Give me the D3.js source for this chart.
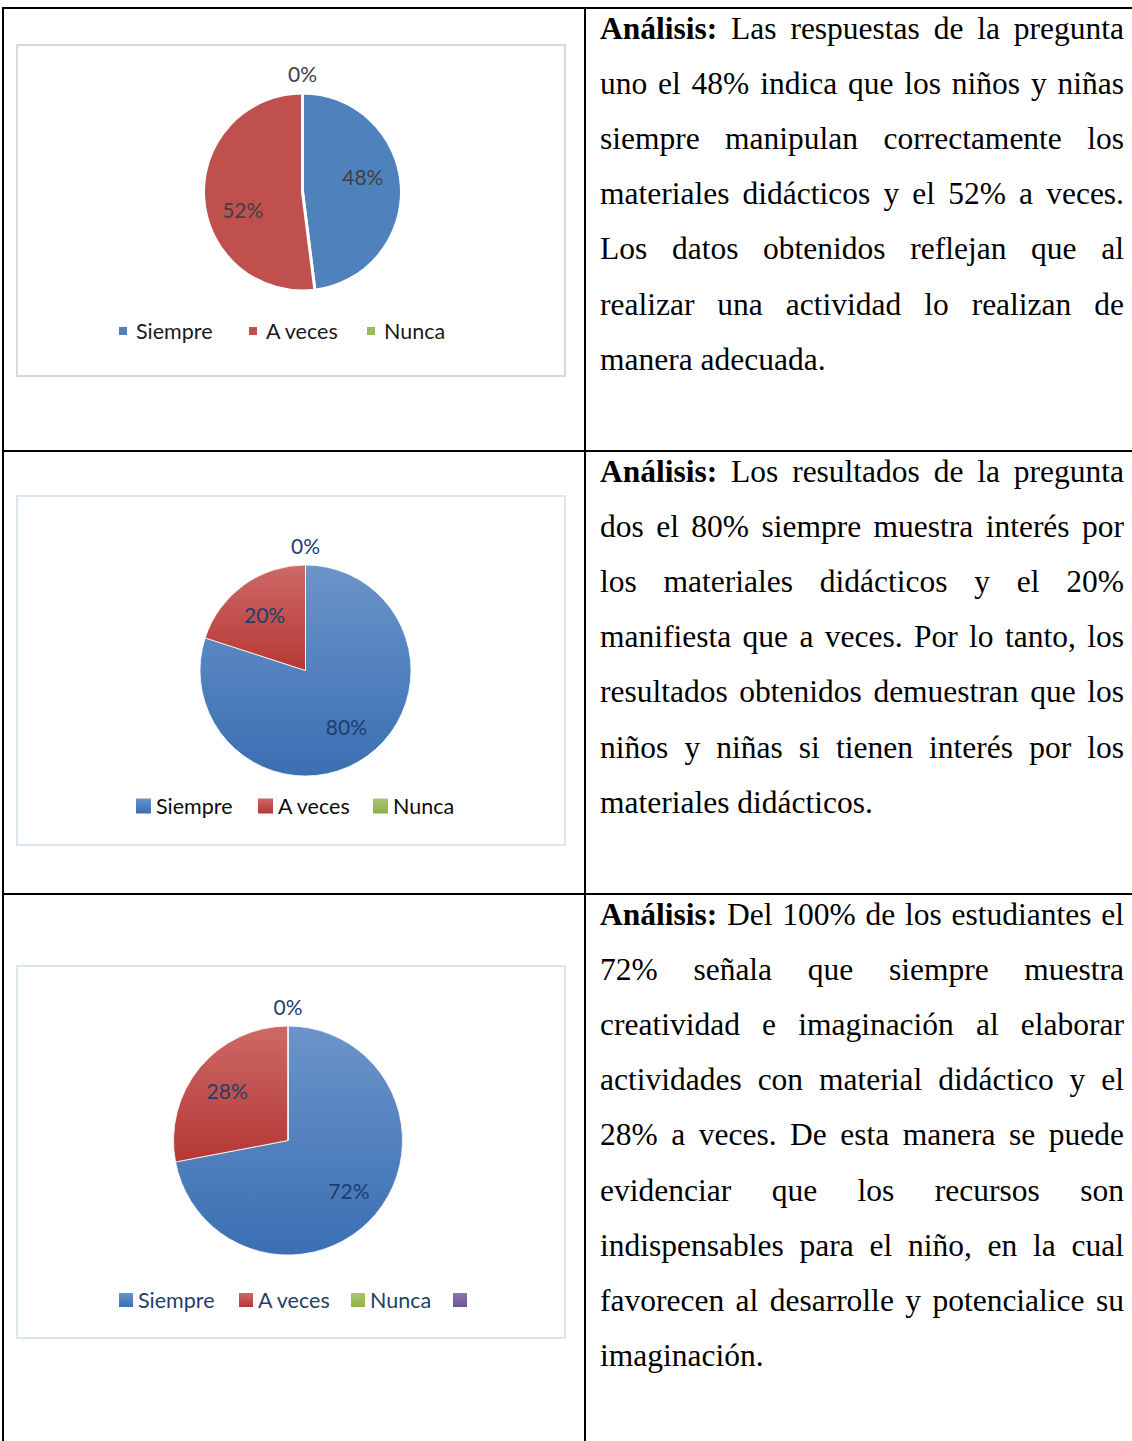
<!DOCTYPE html>
<html><head><meta charset="utf-8">
<script src="https://cdn.jsdelivr.net/npm/d3@7"></script>
<style>
html,body{margin:0;padding:0;background:#fff;}
svg{display:block;}
</style></head>
<body>
<svg id="c" width="1132" height="1441"></svg>
<script>
// ---- data ----
const categories = ["Siempre", "A veces", "Nunca"];
const chart1Values = [48, 52, 0];
const chart2Values = [80, 20, 0];
const chart3Values = [72, 28, 0];
const chart3ExtraLegend = [""];
const analysis1 = [
  "Las respuestas de la pregunta",
  "uno el 48% indica que los niños y niñas",
  "siempre manipulan correctamente los",
  "materiales didácticos y el 52% a veces.",
  "Los datos obtenidos reflejan que al",
  "realizar una actividad lo realizan de",
  "manera adecuada."
];
const analysis2 = [
  "Los resultados de la pregunta",
  "dos el 80% siempre muestra interés por",
  "los materiales didácticos y el 20%",
  "manifiesta que a veces. Por lo tanto, los",
  "resultados obtenidos demuestran que los",
  "niños y niñas si tienen interés por los",
  "materiales didácticos."
];
const analysis3 = [
  "Del 100% de los estudiantes el",
  "72% señala que siempre muestra",
  "creatividad e imaginación al elaborar",
  "actividades con material didáctico y el",
  "28% a veces. De esta manera se puede",
  "evidenciar que los recursos son",
  "indispensables para el niño, en la cual",
  "favorecen al desarrolle y potencialice su",
  "imaginación."
];
const boldLead = "Análisis:";

const svg = d3.select("#c");
const defs = svg.append("defs");

// ---- table grid ----
const grid = svg.append("g").attr("stroke", "#000").attr("stroke-width", 2);
grid.append("line").attr("x1", 2).attr("x2", 1132).attr("y1", 8).attr("y2", 8);
grid.append("line").attr("x1", 3).attr("x2", 3).attr("y1", 7).attr("y2", 1441);
grid.append("line").attr("x1", 585).attr("x2", 585).attr("y1", 7).attr("y2", 1441);
grid.append("line").attr("x1", 2).attr("x2", 1132).attr("y1", 451).attr("y2", 451);
grid.append("line").attr("x1", 2).attr("x2", 1132).attr("y1", 894).attr("y2", 894);

// ---- gradients ----
function grad(id, c1, c2, y1, y2) {
  const g = defs.append("linearGradient").attr("id", id)
    .attr("gradientUnits", "userSpaceOnUse")
    .attr("x1", 0).attr("x2", 0).attr("y1", y1).attr("y2", y2);
  g.append("stop").attr("offset", "0%").attr("stop-color", c1);
  g.append("stop").attr("offset", "100%").attr("stop-color", c2);
}

const labelFont = "Lato, 'Open Sans', sans-serif";

function drawPie(cfg) {
  const g = svg.append("g");
  g.append("rect").attr("x", cfg.box[0]).attr("y", cfg.box[1])
    .attr("width", cfg.box[2]).attr("height", cfg.box[3])
    .attr("fill", "#fff").attr("stroke", cfg.boxStroke).attr("stroke-width", 2);
  const data = cfg.values.map((v, i) => ({ cat: categories[i], v }));
  const pie = d3.pie().value(d => d.v).sort(null);
  const arcs = pie(data);
  const arc = d3.arc().innerRadius(0).outerRadius(cfg.r);
  const pg = g.append("g").attr("transform", `translate(${cfg.cx},${cfg.cy})`);
  pg.selectAll("path").data(arcs).join("path")
    .attr("d", arc)
    .attr("fill", (d, i) => cfg.fills[i])
    .attr("stroke", "#fff")
    .attr("stroke-width", cfg.sw);
  // labels
  pg.selectAll("text").data(arcs).join("text")
    .attr("transform", (d, i) => {
      if (d.data.v === 0) return `translate(0,${-cfg.r - cfg.zeroOff})`;
      const a = (d.startAngle + d.endAngle) / 2 + (cfg.shift ? cfg.shift[i] : 0) * Math.PI / 180;
      const rr = cfg.r * cfg.labR;
      return `translate(${rr * Math.sin(a)},${-rr * Math.cos(a)})`;
    })
    .attr("text-anchor", "middle").attr("dominant-baseline", "central")
    .attr("font-family", labelFont).attr("font-size", cfg.labSize)
    .attr("fill", cfg.labColor)
    .text(d => d.data.v + "%");
  // legend
  const lg = g.append("g");
  const items = categories.concat(cfg.extra || []);
  items.forEach((c, i) => {
    const x = cfg.legX[i];
    lg.append("rect").attr("x", x).attr("y", cfg.legY - cfg.sq / 2)
      .attr("width", cfg.sq).attr("height", cfg.sq).attr("fill", cfg.legFills[i]);
    lg.append("text").attr("x", x + cfg.sq + cfg.gap).attr("y", cfg.legY)
      .attr("dominant-baseline", "central")
      .attr("font-family", labelFont).attr("font-size", cfg.legSize)
      .attr("fill", cfg.legColor).text(c);
  });
}

// chart 1
drawPie({
  box: [17, 45, 548, 331], boxStroke: "#d9d9d9",
  cx: 302.5, cy: 192, r: 99, sw: 3,
  values: chart1Values,
  fills: ["#4f81bd", "#c0504d", "#9bbb59"],
  labR: 0.63, shift: [-11, -13, 0], zeroOff: 20, labSize: 21, labColor: "#404040",
  legX: [119, 249, 367], legY: 331, sq: 8, gap: 9,
  legFills: ["#4f81bd", "#c0504d", "#9bbb59"],
  legSize: 21.5, legColor: "#1a1a1a"
});

// chart 2
grad("b2", "#6b94c9", "#3a6fb3", -105, 105);
grad("r2", "#cd6966", "#b53835", -105, 0);
grad("lg2b", "#6b94c9", "#3a6fb3", 798, 813);
grad("lg2r", "#cd6966", "#b53835", 798, 813);
grad("lg2g", "#a9c86e", "#8fb147", 798, 813);
drawPie({
  box: [17, 496, 548, 349], boxStroke: "#dce6f2",
  cx: 305.5, cy: 670.5, r: 105.5, sw: 0.8,
  values: chart2Values,
  fills: ["url(#b2)", "url(#r2)", "#9bbb59"],
  labR: 0.66, zeroOff: 20, labSize: 21, labColor: "#1f3e6b",
  legX: [136, 258, 373], legY: 806, sq: 15, gap: 5,
  legFills: ["url(#lg2b)", "url(#lg2r)", "url(#lg2g)"],
  legSize: 21.5, legColor: "#0d0d0d"
});

// chart 3
grad("b3", "#6b94c9", "#3a6fb3", -114, 114);
grad("r3", "#cd6966", "#b53835", -114, 20);
grad("lg3b", "#6b94c9", "#3a6fb3", 1293, 1307);
grad("lg3r", "#cd6966", "#b53835", 1293, 1307);
grad("lg3g", "#a9c86e", "#8fb147", 1293, 1307);
grad("lg3p", "#8e74b0", "#6e5494", 1293, 1307);
drawPie({
  box: [17, 966, 548, 372], boxStroke: "#dce6f2",
  cx: 288, cy: 1140.5, r: 114.5, sw: 0.8,
  values: chart3Values,
  fills: ["url(#b3)", "url(#r3)", "#9bbb59"],
  labR: 0.69, zeroOff: 20, labSize: 21, labColor: "#1f3e6b",
  legX: [119, 239, 351, 453], legY: 1300, sq: 14, gap: 5, extra: chart3ExtraLegend,
  legFills: ["url(#lg3b)", "url(#lg3r)", "url(#lg3g)", "url(#lg3p)"],
  legSize: 21.5, legColor: "#1f3e6b"
});

// ---- justified analysis text ----
const serif = "'Liberation Serif', 'Times New Roman', serif";
const fs = 31.5;
const meas = svg.append("text").attr("font-family", serif).attr("font-size", fs).attr("visibility", "hidden");
function w(str, bold) {
  meas.attr("font-weight", bold ? "bold" : "normal").text(str);
  return meas.node().getComputedTextLength();
}
function drawText(lines, y0) {
  const x0 = 600, x1 = 1124, lh = 55.2;
  const tg = svg.append("g").attr("font-family", serif).attr("font-size", fs).attr("fill", "#000");
  lines.forEach((ln, li) => {
    const words = ln.split(" ").map(t => ({ t, b: false }));
    if (li === 0) words.unshift({ t: boldLead, b: true });
    const y = y0 + li * lh;
    const last = li === lines.length - 1;
    const widths = words.map(o => w(o.t, o.b));
    const tot = d3.sum(widths);
    const space = w("a a") - w("aa");
    const gap = last ? space : (x1 - x0 - tot) / (words.length - 1);
    let x = x0;
    words.forEach((o, i) => {
      tg.append("text").attr("x", x).attr("y", y)
        .attr("font-weight", o.b ? "bold" : "normal").text(o.t);
      x += widths[i] + gap;
    });
  });
}
drawText(analysis1, 38.5);
drawText(analysis2, 481.5);
drawText(analysis3, 924.5);
meas.remove();
</script>
</body></html>
